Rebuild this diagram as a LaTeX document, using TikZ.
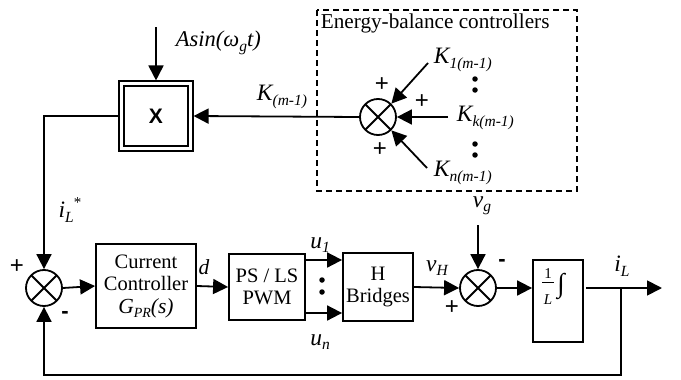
\documentclass[tikz,border=0pt]{standalone}
\usepackage{fontspec}
\setmainfont{Liberation Serif}
\setsansfont{Liberation Sans}
\usetikzlibrary{arrows.meta,calc}
\newcommand\sbx[1]{\raisebox{-4.5pt}{\fontsize{15.5}{15.5}\selectfont #1}}
\newcommand\sbg[1]{\raisebox{-4pt}{\fontsize{14}{14}\selectfont #1}}
\begin{document}
\begin{tikzpicture}[x=1pt,y=-1pt,line width=1.8pt,
  font=\fontsize{20.5}{22.5}\selectfont,
  blk/.style={draw,line width=1.8pt,inner sep=0pt,align=center},
  sumc/.style={circle,draw,minimum size=36pt,inner sep=0pt,line width=1.8pt,
    path picture={\draw[line width=1.8pt]
      (path picture bounding box.north west) -- (path picture bounding box.south east)
      (path picture bounding box.south west) -- (path picture bounding box.north east);}},
  arr/.style={-{Triangle[length=15pt,width=15pt]}},
  lbl/.style={inner sep=0pt,font=\fontsize{23.5}{24}\selectfont\itshape},
  sgn/.style={inner sep=0pt,font=\fontsize{24}{24}\selectfont\sffamily},
  msgn/.style={inner sep=0pt,font=\fontsize{22}{22}\selectfont\sffamily\bfseries},
  dotn/.style={circle,fill,inner sep=0pt,minimum size=5.5pt}]
\useasboundingbox (0,0) rectangle (681,380);

% multiplier block
\node[draw,line width=1.1pt,minimum width=74pt,minimum height=70pt] (Xo) at (156,116) {};
\node[draw,line width=2.4pt,minimum width=64pt,minimum height=60pt,
      font=\fontsize{21}{21}\selectfont\sffamily\bfseries] (X) at (156,116) {X};
\coordinate (sinin) at (156,27);
\node[lbl,anchor=west,font=\fontsize{22.5}{24}\selectfont\itshape] (sinlbl) at (175,43) {Asin(ω\sbx{g}t)};
\draw[arr] (sinin) -- (Xo.north);

% energy-balance controllers
\draw[dash pattern=on 6pt off 4pt,line width=1.6pt] (317,10) rectangle (577,191);
\node[anchor=west,inner sep=0pt,font=\fontsize{21.2}{22}\selectfont] (ebtitle) at (320,23) {Energy-balance controllers};
\node[sumc] (S2) at (378,117) {};
\node[lbl,anchor=west] (K1) at (433,60) {K\sbx{1(m-1)}};
\node[lbl,anchor=west] (Kk) at (456,118) {K\sbx{k(m-1)}};
\node[lbl,anchor=west] (Kn) at (433,173) {K\sbx{n(m-1)}};
\coordinate (k1s) at (428,63);
\coordinate (kks) at (448,117);
\coordinate (kns) at (427,168);
\draw[arr] (k1s) -- (S2.north east);
\draw[arr] (kks) -- (S2.east);
\draw[arr] (kns) -- (S2.south east);
\node[sgn] (p1) at (382,85) {+};
\node[sgn] (p2) at (422,102) {+};
\node[sgn] (p3) at (380,150) {+};
\node[dotn] (d1) at (475,79) {};
\node[dotn] (d2) at (475,90) {};
\node[dotn] (d3) at (475,144) {};
\node[dotn] (d4) at (475,155) {};
\draw[arr] (S2.west) -- (Xo.east);
\node[lbl] (Km) at (282,97) {K\sbx{(m-1)}};

% main loop
\node[sumc] (S1) at (44,288) {};
\draw[arr] (Xo.west) -| (S1.north);
\node[lbl] (iref) at (70,210) {i\sbx{L}\raisebox{10pt}{\fontsize{15}{15}\selectfont\upshape *}};
\node[sgn] (p4) at (17,267) {+};
\node[msgn] (m1) at (65,315) {-};

\node[blk,minimum width=100pt,minimum height=84pt] (CC) at (146,286)
  {Current\\Controller\\\textit{\fontsize{21.5}{22}\selectfont G\sbg{PR}(s)}};
\draw[arr] (S1.east) -- (CC.west);
\node[lbl,font=\fontsize{21.5}{22}\selectfont\itshape] (dl) at (204,267) {d};

\node[blk,minimum width=76pt,minimum height=66pt] (PWM) at (267,287) {PS / LS\\PWM};
\draw[arr] (CC.east) -- (PWM.west);

\node[blk,minimum width=70pt,minimum height=68pt] (HB) at (378,287) {H\\Bridges};
\draw[arr] (PWM.east |- 0,260) -- (HB.west |- 0,260);
\draw[arr] (PWM.east |- 0,313) -- (HB.west |- 0,313);
\node[lbl] (u1) at (320,245) {u\sbx{1}};
\node[lbl] (un) at (320,342) {u\sbx{n}};
\node[dotn] (d5) at (322,280) {};
\node[dotn] (d6) at (322,292) {};

\node[sumc] (S3) at (478,288) {};
\draw[arr] (HB.east) -- (S3.west);
\node[lbl] (vH) at (437,268) {v\sbx{H}};
\node[sgn] (p5) at (452,308) {+};
\coordinate (vgs) at (478,225);
\node[lbl] (vg) at (482,206) {v\sbx{g}};
\draw[arr] (vgs) -- (S3.north);
\node[msgn] (m2) at (502,263) {-};

\node[blk,minimum width=50pt,minimum height=82pt] (INT) at (558,301) {};
\node[inner sep=0pt,font=\fontsize{15}{15}\selectfont] (n1) at (548,274) {1};
\node[inner sep=0pt,font=\fontsize{15}{15}\selectfont\itshape] (nL) at (548,300) {L};
\draw[line width=0.9pt] ($(n1.south)+(-6pt,-3pt)$) -- ($(n1.south)+(6pt,-3pt)$);
\node[inner sep=0pt,font=\fontsize{27}{27}\selectfont] (ig) at (561,286) {∫};
\draw[arr] (S3.east) -- (INT.west |- S3.east);
\coordinate (io) at (586,288);
\coordinate (out) at (662,288);
\coordinate (br) at (621,288);
\draw[arr] (io) -- (out);
\node[lbl] (iL) at (622,266) {i\sbx{L}};
\draw[arr] (br) -- (621,375) -| (S1.south);
\end{tikzpicture}
\end{document}
